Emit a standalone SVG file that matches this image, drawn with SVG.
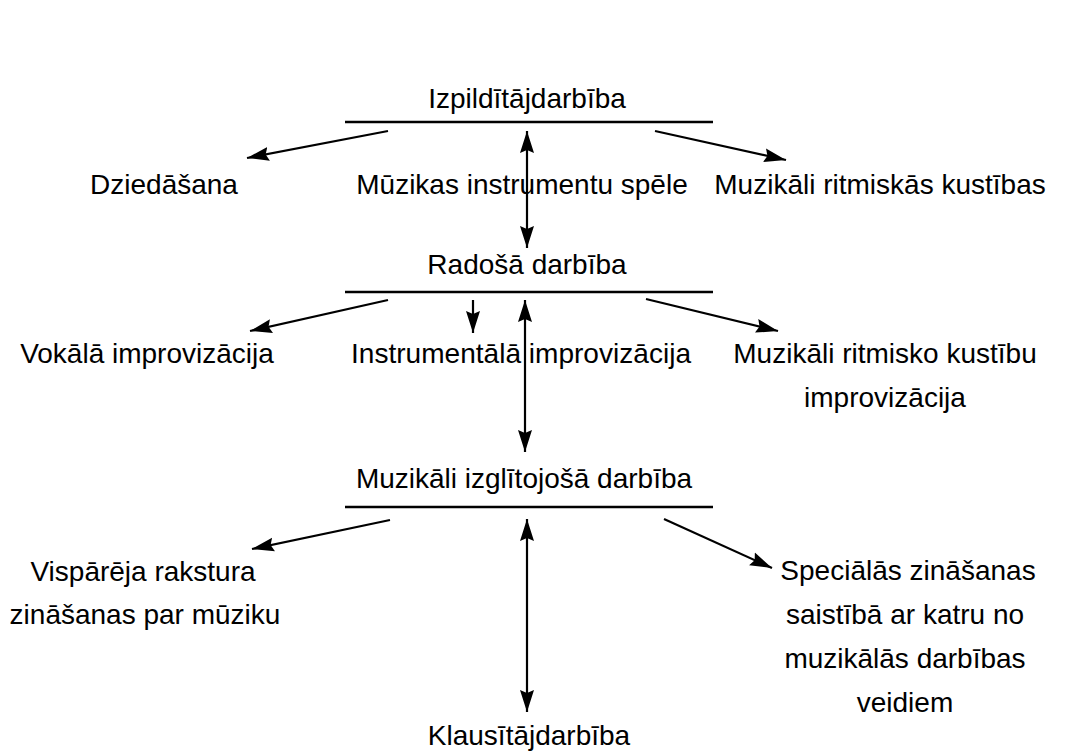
<svg xmlns="http://www.w3.org/2000/svg" width="1084" height="752" viewBox="0 0 1084 752">
<style>
text{font-family:"Liberation Sans",Arial,sans-serif;font-size:28px;fill:#000;text-anchor:middle}
.rule{stroke:#000;stroke-width:2.4;fill:none}
.c{stroke:#000;stroke-width:2.2;fill:none}
</style>
<defs>
<marker id="ah" markerUnits="userSpaceOnUse" markerWidth="24" markerHeight="16" refX="22" refY="8" orient="auto-start-reverse">
<path d="M0,1 L22,8 L0,15 L3,8 Z" fill="#000"/>
</marker>
</defs>
<rect width="1084" height="752" fill="#fff"/>
<g id="n-izpild">
<text x="527" y="108">Izpildītājdarbība</text>
<line class="rule" x1="345" y1="122" x2="713" y2="122"/>
</g>
<g id="n-dzied"><text x="164" y="194">Dziedāšana</text></g>
<g id="n-instr"><text x="522" y="194">Mūzikas instrumentu spēle</text></g>
<g id="n-ritm"><text x="880" y="194">Muzikāli ritmiskās kustības</text></g>
<g id="n-rados">
<text x="527" y="274">Radošā darbība</text>
<line class="rule" x1="345" y1="292" x2="713" y2="292"/>
</g>
<g id="n-vok"><text x="147" y="363">Vokālā improvizācija</text></g>
<g id="n-instrimp"><text x="351" y="363" style="text-anchor:start" textLength="340" lengthAdjust="spacingAndGlyphs">Instrumentālā improvizācija</text></g>
<g id="n-ritmimp"><text x="885" y="363">Muzikāli ritmisko kustību</text><text x="885" y="407">improvizācija</text></g>
<g id="n-izgl">
<text x="524" y="488">Muzikāli izglītojošā darbība</text>
<line class="rule" x1="345" y1="507" x2="713" y2="507"/>
</g>
<g id="n-visp"><text x="143" y="581">Vispārēja rakstura</text><text x="145" y="624">zināšanas par mūziku</text></g>
<g id="n-spec"><text x="908" y="580">Speciālās zināšanas</text><text x="905" y="624">saistībā ar katru no</text><text x="905" y="668">muzikālās darbības</text><text x="905" y="712">veidiem</text></g>
<g id="n-klaus"><text x="529" y="745">Klausītājdarbība</text></g>
<g id="connectors">
<line class="c" x1="388" y1="131" x2="247" y2="158" marker-end="url(#ah)"/>
<line class="c" x1="655" y1="131" x2="786" y2="160" marker-end="url(#ah)"/>
<line class="c" x1="527" y1="131" x2="527" y2="248" marker-start="url(#ah)" marker-end="url(#ah)"/>
<line class="c" x1="388" y1="300" x2="250" y2="331" marker-end="url(#ah)"/>
<line class="c" x1="473" y1="300" x2="473" y2="333" marker-end="url(#ah)"/>
<line class="c" x1="525" y1="300" x2="525" y2="452" marker-start="url(#ah)" marker-end="url(#ah)"/>
<line class="c" x1="646" y1="299" x2="778" y2="331" marker-end="url(#ah)"/>
<line class="c" x1="390" y1="520" x2="252" y2="549" marker-end="url(#ah)"/>
<line class="c" x1="527" y1="519" x2="527" y2="712" marker-start="url(#ah)" marker-end="url(#ah)"/>
<line class="c" x1="664" y1="519" x2="772" y2="568" marker-end="url(#ah)"/>
</g>
</svg>
